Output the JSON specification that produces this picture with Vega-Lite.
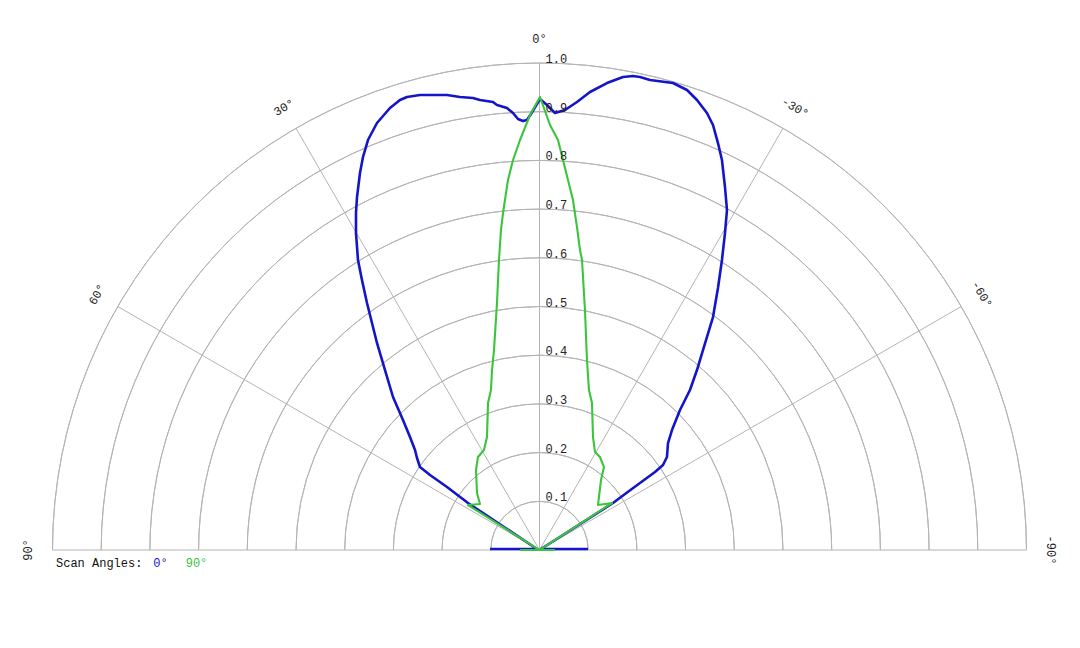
{
  "$schema": "https://vega.github.io/schema/vega-lite/v6.json",
  "width": 1080,
  "height": 648,
  "autosize": {"type": "none"},
  "padding": 0,
  "background": "white",
  "config": {"view": {"stroke": null}},
  "datasets": {
    "rings": [{"r": 0.1}, {"r": 0.2}, {"r": 0.3}, {"r": 0.4}, {"r": 0.5}, {"r": 0.6}, {"r": 0.7}, {"r": 0.8}, {"r": 0.9}, {"r": 1.0}],
    "spokes": [
      {"x": -1, "y": 0, "x2": 1, "y2": 0},
      {"x": 0, "y": 0, "x2": 0, "y2": 1},
      {"x": 0, "y": 0, "x2": -0.5, "y2": 0.866},
      {"x": 0, "y": 0, "x2": 0.5, "y2": 0.866},
      {"x": 0, "y": 0, "x2": -0.866, "y2": 0.5},
      {"x": 0, "y": 0, "x2": 0.866, "y2": 0.5}
    ],
    "angles": [
      {"t": "0°", "a": 0, "x": 0, "y": 1.05},
      {"t": "30°", "a": 30, "x": -0.525, "y": 0.909},
      {"t": "-30°", "a": -30, "x": 0.525, "y": 0.909},
      {"t": "60°", "a": 60, "x": -0.909, "y": 0.525},
      {"t": "-60°", "a": -60, "x": 0.909, "y": 0.525},
      {"t": "90°", "a": 90, "x": -1.05, "y": 0},
      {"t": "-90°", "a": -90, "x": 1.05, "y": 0}
    ],
    "key": [
      {"t": "Scan Angles:", "s": "key", "x": -0.9928, "y": -0.0273},
      {"t": "0°", "s": "0°", "x": -0.793, "y": -0.0273},
      {"t": "90°", "s": "90°", "x": -0.7265, "y": -0.0273}
    ],
    "curves": [
      {"s": "0°", "i": 1, "x": -0.1016, "y": 0.0021},
      {"s": "0°", "i": 2, "x": -0.0051, "y": 0.0021},
      {"s": "0°", "i": 3, "x": -0.1468, "y": 0.0965},
      {"s": "0°", "i": 4, "x": -0.1899, "y": 0.1294},
      {"s": "0°", "i": 5, "x": -0.2248, "y": 0.154},
      {"s": "0°", "i": 6, "x": -0.2454, "y": 0.1704},
      {"s": "0°", "i": 7, "x": -0.2515, "y": 0.1889},
      {"s": "0°", "i": 8, "x": -0.2556, "y": 0.2053},
      {"s": "0°", "i": 9, "x": -0.2659, "y": 0.232},
      {"s": "0°", "i": 10, "x": -0.2803, "y": 0.2669},
      {"s": "0°", "i": 11, "x": -0.3008, "y": 0.3142},
      {"s": "0°", "i": 12, "x": -0.3172, "y": 0.3696},
      {"s": "0°", "i": 13, "x": -0.3337, "y": 0.4251},
      {"s": "0°", "i": 14, "x": -0.3542, "y": 0.5072},
      {"s": "0°", "i": 15, "x": -0.3645, "y": 0.5544},
      {"s": "0°", "i": 16, "x": -0.3727, "y": 0.5955},
      {"s": "0°", "i": 17, "x": -0.3768, "y": 0.6509},
      {"s": "0°", "i": 18, "x": -0.3768, "y": 0.692},
      {"s": "0°", "i": 19, "x": -0.3747, "y": 0.7248},
      {"s": "0°", "i": 20, "x": -0.3686, "y": 0.7741},
      {"s": "0°", "i": 21, "x": -0.3624, "y": 0.807},
      {"s": "0°", "i": 22, "x": -0.3522, "y": 0.8419},
      {"s": "0°", "i": 23, "x": -0.3337, "y": 0.8768},
      {"s": "0°", "i": 24, "x": -0.307, "y": 0.9076},
      {"s": "0°", "i": 25, "x": -0.2864, "y": 0.924},
      {"s": "0°", "i": 26, "x": -0.2721, "y": 0.9302},
      {"s": "0°", "i": 27, "x": -0.2454, "y": 0.9343},
      {"s": "0°", "i": 28, "x": -0.1899, "y": 0.9343},
      {"s": "0°", "i": 29, "x": -0.1632, "y": 0.9302},
      {"s": "0°", "i": 30, "x": -0.1366, "y": 0.9281},
      {"s": "0°", "i": 31, "x": -0.1222, "y": 0.924},
      {"s": "0°", "i": 32, "x": -0.0955, "y": 0.9199},
      {"s": "0°", "i": 33, "x": -0.0873, "y": 0.9138},
      {"s": "0°", "i": 34, "x": -0.0667, "y": 0.9076},
      {"s": "0°", "i": 35, "x": -0.0544, "y": 0.8973},
      {"s": "0°", "i": 36, "x": -0.0441, "y": 0.885},
      {"s": "0°", "i": 37, "x": -0.0339, "y": 0.8809},
      {"s": "0°", "i": 38, "x": -0.0257, "y": 0.883},
      {"s": "0°", "i": 39, "x": -0.0175, "y": 0.8953},
      {"s": "0°", "i": 40, "x": 0.001, "y": 0.9261},
      {"s": "0°", "i": 41, "x": 0.0154, "y": 0.9138},
      {"s": "0°", "i": 42, "x": 0.0318, "y": 0.8973},
      {"s": "0°", "i": 43, "x": 0.0524, "y": 0.9035},
      {"s": "0°", "i": 44, "x": 0.077, "y": 0.9199},
      {"s": "0°", "i": 45, "x": 0.1037, "y": 0.9405},
      {"s": "0°", "i": 46, "x": 0.1386, "y": 0.9589},
      {"s": "0°", "i": 47, "x": 0.1715, "y": 0.9713},
      {"s": "0°", "i": 48, "x": 0.192, "y": 0.9733},
      {"s": "0°", "i": 49, "x": 0.2064, "y": 0.9713},
      {"s": "0°", "i": 50, "x": 0.2269, "y": 0.9651},
      {"s": "0°", "i": 51, "x": 0.2741, "y": 0.9589},
      {"s": "0°", "i": 52, "x": 0.3029, "y": 0.9446},
      {"s": "0°", "i": 53, "x": 0.3234, "y": 0.924},
      {"s": "0°", "i": 54, "x": 0.3439, "y": 0.8973},
      {"s": "0°", "i": 55, "x": 0.3563, "y": 0.8727},
      {"s": "0°", "i": 56, "x": 0.3665, "y": 0.8357},
      {"s": "0°", "i": 57, "x": 0.3747, "y": 0.8008},
      {"s": "0°", "i": 58, "x": 0.3809, "y": 0.7454},
      {"s": "0°", "i": 59, "x": 0.385, "y": 0.6982},
      {"s": "0°", "i": 60, "x": 0.3809, "y": 0.6509},
      {"s": "0°", "i": 61, "x": 0.3747, "y": 0.5955},
      {"s": "0°", "i": 62, "x": 0.3665, "y": 0.538},
      {"s": "0°", "i": 63, "x": 0.3563, "y": 0.4784},
      {"s": "0°", "i": 64, "x": 0.3357, "y": 0.4107},
      {"s": "0°", "i": 65, "x": 0.3234, "y": 0.3696},
      {"s": "0°", "i": 66, "x": 0.309, "y": 0.3285},
      {"s": "0°", "i": 67, "x": 0.2885, "y": 0.2875},
      {"s": "0°", "i": 68, "x": 0.2721, "y": 0.2464},
      {"s": "0°", "i": 69, "x": 0.2639, "y": 0.2197},
      {"s": "0°", "i": 70, "x": 0.2618, "y": 0.191},
      {"s": "0°", "i": 71, "x": 0.2536, "y": 0.1745},
      {"s": "0°", "i": 72, "x": 0.2372, "y": 0.1602},
      {"s": "0°", "i": 73, "x": 0.2064, "y": 0.1376},
      {"s": "0°", "i": 74, "x": 0.1756, "y": 0.115},
      {"s": "0°", "i": 75, "x": 0.1509, "y": 0.0965},
      {"s": "0°", "i": 76, "x": 0.0031, "y": 0.0021},
      {"s": "0°", "i": 77, "x": 0.0996, "y": 0.0021},
      {"s": "90°", "i": 1, "x": -0.04, "y": 0},
      {"s": "90°", "i": 2, "x": 0, "y": 0},
      {"s": "90°", "i": 3, "x": -0.1468, "y": 0.0924},
      {"s": "90°", "i": 4, "x": -0.1222, "y": 0.0945},
      {"s": "90°", "i": 5, "x": -0.1283, "y": 0.117},
      {"s": "90°", "i": 6, "x": -0.1304, "y": 0.1643},
      {"s": "90°", "i": 7, "x": -0.1263, "y": 0.191},
      {"s": "90°", "i": 8, "x": -0.114, "y": 0.2053},
      {"s": "90°", "i": 9, "x": -0.1078, "y": 0.232},
      {"s": "90°", "i": 10, "x": -0.1057, "y": 0.3018},
      {"s": "90°", "i": 11, "x": -0.0996, "y": 0.3285},
      {"s": "90°", "i": 12, "x": -0.0975, "y": 0.3696},
      {"s": "90°", "i": 13, "x": -0.0934, "y": 0.4107},
      {"s": "90°", "i": 14, "x": -0.0873, "y": 0.5072},
      {"s": "90°", "i": 15, "x": -0.0832, "y": 0.5955},
      {"s": "90°", "i": 16, "x": -0.0791, "y": 0.6571},
      {"s": "90°", "i": 17, "x": -0.0749, "y": 0.692},
      {"s": "90°", "i": 18, "x": -0.0647, "y": 0.7598},
      {"s": "90°", "i": 19, "x": -0.0544, "y": 0.8008},
      {"s": "90°", "i": 20, "x": -0.04, "y": 0.8419},
      {"s": "90°", "i": 21, "x": -0.0195, "y": 0.8932},
      {"s": "90°", "i": 22, "x": 0.001, "y": 0.9302},
      {"s": "90°", "i": 23, "x": 0.0216, "y": 0.8727},
      {"s": "90°", "i": 24, "x": 0.038, "y": 0.8419},
      {"s": "90°", "i": 25, "x": 0.0483, "y": 0.8008},
      {"s": "90°", "i": 26, "x": 0.0585, "y": 0.7598},
      {"s": "90°", "i": 27, "x": 0.0688, "y": 0.7187},
      {"s": "90°", "i": 28, "x": 0.077, "y": 0.6632},
      {"s": "90°", "i": 29, "x": 0.0832, "y": 0.616},
      {"s": "90°", "i": 30, "x": 0.0873, "y": 0.5955},
      {"s": "90°", "i": 31, "x": 0.0934, "y": 0.4928},
      {"s": "90°", "i": 32, "x": 0.0975, "y": 0.3901},
      {"s": "90°", "i": 33, "x": 0.1016, "y": 0.3285},
      {"s": "90°", "i": 34, "x": 0.1078, "y": 0.3018},
      {"s": "90°", "i": 35, "x": 0.1099, "y": 0.232},
      {"s": "90°", "i": 36, "x": 0.114, "y": 0.2012},
      {"s": "90°", "i": 37, "x": 0.1242, "y": 0.191},
      {"s": "90°", "i": 38, "x": 0.1324, "y": 0.1704},
      {"s": "90°", "i": 39, "x": 0.1263, "y": 0.1437},
      {"s": "90°", "i": 40, "x": 0.1201, "y": 0.0924},
      {"s": "90°", "i": 41, "x": 0.1489, "y": 0.0965},
      {"s": "90°", "i": 42, "x": 0, "y": 0},
      {"s": "90°", "i": 43, "x": 0.0318, "y": 0}
    ]
  },
  "layer": [
    {
      "data": {"name": "rings"},
      "mark": {"type": "arc", "theta": -1.5708, "theta2": 1.5708, "fillOpacity": 0, "stroke": "#b4b4b4", "strokeWidth": 1},
      "encoding": {
        "x": {"datum": 0, "type": "quantitative", "scale": {"domain": [-1.1078, 1.1099], "nice": false, "zero": false}, "axis": null},
        "y": {"datum": 0, "type": "quantitative", "scale": {"domain": [-0.2012, 1.1294], "nice": false, "zero": false}, "axis": null},
        "radius": {"field": "r", "type": "quantitative", "scale": {"type": "linear", "domain": [0, 1], "range": [0, 487], "zero": true}},
        "radius2": {"field": "r"}
      }
    },
    {
      "data": {"name": "spokes"},
      "mark": {"type": "rule", "stroke": "#b4b4b4", "strokeWidth": 1},
      "encoding": {
        "x": {"field": "x", "type": "quantitative", "scale": {"domain": [-1.1078, 1.1099], "nice": false, "zero": false}, "axis": null},
        "y": {"field": "y", "type": "quantitative", "scale": {"domain": [-0.2012, 1.1294], "nice": false, "zero": false}, "axis": null},
        "x2": {"field": "x2"},
        "y2": {"field": "y2"}
      }
    },
    {
      "data": {"name": "curves"},
      "mark": {"type": "line", "strokeJoin": "round"},
      "encoding": {
        "x": {"field": "x", "type": "quantitative", "scale": {"domain": [-1.1078, 1.1099], "nice": false, "zero": false}, "axis": null},
        "y": {"field": "y", "type": "quantitative", "scale": {"domain": [-0.2012, 1.1294], "nice": false, "zero": false}, "axis": null},
        "order": {"field": "i", "type": "quantitative"},
        "strokeWidth": {"field": "s", "type": "nominal", "scale": {"domain": ["0°", "90°"], "range": [2.6, 2.1]}, "legend": null},
        "color": {"field": "s", "type": "nominal", "scale": {"domain": ["0°", "90°", "key"], "range": ["#1414c8", "#3cc43c", "#111111"]}, "legend": null}
      }
    },
    {
      "data": {"name": "rings"},
      "mark": {"type": "text", "font": "Liberation Mono", "fontSize": 12, "align": "left", "baseline": "alphabetic", "dx": 6, "fill": "#222222"},
      "encoding": {
        "x": {"datum": 0, "type": "quantitative", "scale": {"domain": [-1.1078, 1.1099], "nice": false, "zero": false}, "axis": null},
        "y": {"field": "r", "type": "quantitative", "scale": {"domain": [-0.2012, 1.1294], "nice": false, "zero": false}, "axis": null},
        "text": {"field": "r", "type": "quantitative", "format": ".1f"}
      }
    },
    {
      "data": {"name": "angles"},
      "mark": {"type": "text", "font": "Liberation Mono", "fontSize": 12, "align": "center", "baseline": "middle", "fill": "#222222"},
      "encoding": {
        "x": {"field": "x", "type": "quantitative", "scale": {"domain": [-1.1078, 1.1099], "nice": false, "zero": false}, "axis": null},
        "y": {"field": "y", "type": "quantitative", "scale": {"domain": [-0.2012, 1.1294], "nice": false, "zero": false}, "axis": null},
        "angle": {"field": "a", "type": "quantitative", "scale": {"domain": [-90, 90], "range": [90, -90]}, "legend": null},
        "text": {"field": "t", "type": "nominal"}
      }
    },
    {
      "data": {"name": "key"},
      "mark": {"type": "text", "font": "Liberation Mono", "fontSize": 12, "align": "left", "baseline": "middle"},
      "encoding": {
        "x": {"field": "x", "type": "quantitative", "scale": {"domain": [-1.1078, 1.1099], "nice": false, "zero": false}, "axis": null},
        "y": {"field": "y", "type": "quantitative", "scale": {"domain": [-0.2012, 1.1294], "nice": false, "zero": false}, "axis": null},
        "color": {"field": "s", "type": "nominal", "scale": {"domain": ["0°", "90°", "key"], "range": ["#1414c8", "#3cc43c", "#111111"]}, "legend": null},
        "text": {"field": "t", "type": "nominal"}
      }
    }
  ]
}
